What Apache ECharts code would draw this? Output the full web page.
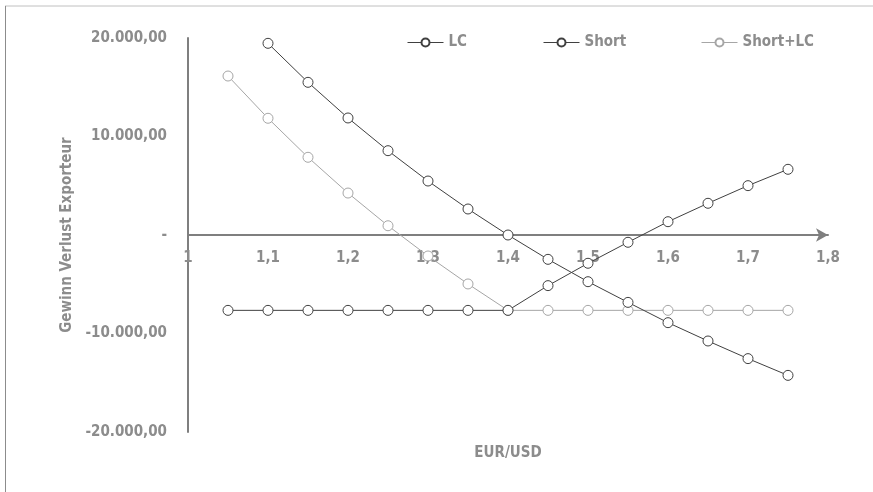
<!DOCTYPE html>
<html>
<head>
<meta charset="utf-8">
<script src="https://cdn.jsdelivr.net/npm/echarts@6/dist/echarts.min.js"></script>
<style>html,body{margin:0;padding:0;background:#fff}#c{width:873px;height:492px}</style>
</head>
<body>
<div id="c"></div>
<script>
var xValues = [1.05, 1.1, 1.15, 1.2, 1.25, 1.3, 1.35, 1.4, 1.45, 1.5, 1.55, 1.6, 1.65, 1.7, 1.75];
var lcValues = [-7650, -7650, -7650, -7650, -7650, -7650, -7650, -7650, -5140, -2870, -740, 1350, 3220, 5010, 6670];
var shortValues = [null, 19460, 15500, 11880, 8560, 5480, 2640, 0, -2470, -4740, -6840, -8900, -10760, -12550, -14250];
var shortLcValues = [16140, 11850, 7890, 4260, 940, -2130, -4970, -7650, -7650, -7650, -7650, -7650, -7650, -7650, -7650];
var seriesNames = ['LC', 'Short', 'Short+LC'];

function pairs(vals) {
  var out = [];
  for (var i = 0; i < xValues.length; i++) {
    if (vals[i] !== null) out.push([xValues[i], vals[i]]);
  }
  return out;
}
function fmtDE(v) {
  if (v === 0) return '-';
  var neg = v < 0; var a = Math.abs(v);
  var s = Math.round(a).toString().replace(/\B(?=(\d{3})+(?!\d))/g, '.');
  return (neg ? '-' : '') + s + ',00';
}
var FONT = '"DejaVu Sans Condensed", "Liberation Sans Narrow", sans-serif';
var TXT = { color: '#8c8c8c', fontWeight: 'bold', fontFamily: FONT, fontSize: 15 };
var colors = ['#404040', '#404040', '#a6a6a6'];

function legendAt(left, name) {
  return {
    left: left, top: 30, data: [name], itemWidth: 36, itemHeight: 10,
    textStyle: { color: '#8c8c8c', fontWeight: 'bold', fontFamily: FONT, fontSize: 15 },
    itemGap: 4, selectedMode: false,
    lineStyle: { width: 1 }
  };
}

var chart = echarts.init(document.getElementById('c'));
chart.setOption({
  animation: false,
  backgroundColor: '#fff',
  graphic: [
    { type: 'line', shape: { x1: 5, y1: 6, x2: 873, y2: 6 }, style: { stroke: '#c0c0c0', lineWidth: 1 } },
    { type: 'line', shape: { x1: 5.5, y1: 6, x2: 5.5, y2: 492 }, style: { stroke: '#8c8c8c', lineWidth: 1 } }
  ],
  legend: [legendAt(402, 'LC'), legendAt(538, 'Short'), legendAt(696, 'Short+LC')],
  grid: { left: 188, right: 45, top: 38, bottom: 60, containLabel: false, outerBoundsMode: 'none' },
  xAxis: {
    type: 'value', min: 1, max: 1.8, interval: 0.1,
    position: 'bottom', offset: -197,
    name: 'EUR/USD', nameLocation: 'middle', nameGap: 211,
    nameTextStyle: TXT,
    axisLine: { onZero: false, lineStyle: { color: '#7f7f7f', width: 2 }, symbol: ['none', 'arrow'], symbolSize: [10, 12] },
    axisTick: { show: false },
    splitLine: { show: false },
    axisLabel: Object.assign({ margin: 16, formatter: function (v) { return (Math.round(v * 10) / 10).toString().replace('.', ','); } }, TXT)
  },
  yAxis: {
    type: 'value', min: -20000, max: 20000, interval: 10000,
    name: 'Gewinn Verlust Exporteur', nameLocation: 'middle', nameGap: 112,
    nameTextStyle: Object.assign({}, TXT, { fontSize: 15 }),
    axisLine: { show: true, lineStyle: { color: '#7f7f7f', width: 2 } },
    axisTick: { show: false },
    splitLine: { show: false },
    axisLabel: Object.assign({ margin: 21, formatter: fmtDE }, TXT)
  },
  series: [
    { name: 'LC', type: 'line', data: pairs(lcValues), symbol: 'circle', symbolSize: 10, z: 3,
      lineStyle: { color: colors[0], width: 1 }, itemStyle: { color: '#fff', borderColor: colors[0], borderWidth: 1 } },
    { name: 'Short', type: 'line', data: pairs(shortValues), symbol: 'circle', symbolSize: 10, z: 4,
      lineStyle: { color: colors[1], width: 1 }, itemStyle: { color: '#fff', borderColor: colors[1], borderWidth: 1 } },
    { name: 'Short+LC', type: 'line', data: pairs(shortLcValues), symbol: 'circle', symbolSize: 10, z: 2,
      lineStyle: { color: colors[2], width: 1 }, itemStyle: { color: '#fff', borderColor: colors[2], borderWidth: 1 } }
  ]
});
</script>
</body>
</html>
